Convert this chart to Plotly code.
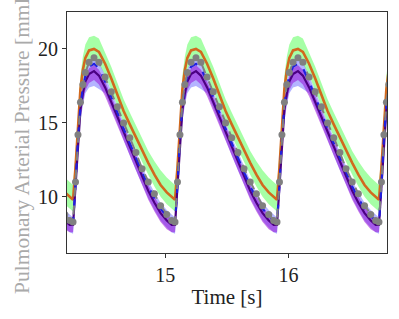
import numpy as np
import plotly.graph_objects as go

# cycle start times [s]
cycle_starts = [13.425, 14.252, 15.079, 15.906, 16.733]
# time within a cycle [s]
tau = [0.00, 0.02, 0.04, 0.06, 0.08, 0.10, 0.13, 0.17, 0.21, 0.26, 0.31,
       0.36, 0.41, 0.46, 0.51, 0.56, 0.61, 0.66, 0.71, 0.76, 0.80]

# pressure values per cycle [mmHg]
grey_data = [8.3, 11.0, 14.2, 16.4, 17.6, 18.4, 19.1, 19.4, 19.1, 18.1, 17.1,
             16.1, 15.0, 14.0, 13.0, 11.9, 11.0, 10.2, 9.4, 8.8, 8.4]
dark_purple = [8.1, 10.6, 13.8, 15.9, 17.0, 17.8, 18.3, 18.5, 18.2, 17.4, 16.4,
               15.4, 14.3, 13.3, 12.3, 11.3, 10.4, 9.6, 8.9, 8.4, 8.1]
blue_dashed = [8.2, 10.8, 14.0, 16.2, 17.4, 18.2, 18.8, 19.0, 18.7, 17.8, 16.8,
               15.7, 14.6, 13.6, 12.6, 11.6, 10.7, 9.9, 9.2, 8.7, 8.4]
orange_mean = [9.8, 12.0, 15.0, 17.3, 18.6, 19.4, 19.9, 20.0, 19.8, 19.0, 18.0,
               16.9, 15.8, 14.9, 14.0, 13.1, 12.3, 11.5, 10.8, 10.3, 10.0]
green_lo = [9.0, 11.2, 14.2, 16.5, 17.8, 18.6, 19.1, 19.2, 19.0, 18.2, 17.2,
            16.1, 15.0, 14.1, 13.2, 12.3, 11.5, 10.7, 10.0, 9.5, 9.2]
green_hi = [10.8, 12.9, 15.9, 18.2, 19.5, 20.3, 20.8, 20.9, 20.7, 19.8, 18.8,
            17.7, 16.6, 15.7, 14.8, 13.9, 13.1, 12.4, 11.8, 11.3, 11.0]
blue_lo = [7.5, 9.8, 13.0, 15.1, 16.2, 17.0, 17.4, 17.5, 17.3, 17.0, 16.0,
           14.9, 13.8, 12.8, 11.8, 10.8, 9.9, 9.1, 8.4, 7.9, 7.6]
blue_hi = [8.6, 11.2, 14.4, 16.6, 17.8, 18.6, 19.2, 19.4, 19.1, 18.2, 17.2,
           16.1, 15.0, 14.0, 13.0, 12.0, 11.1, 10.3, 9.6, 9.1, 8.8]
purple_lo = [7.6, 10.0, 13.2, 15.3, 16.4, 17.2, 17.7, 17.9, 17.6, 16.8, 15.8,
             14.8, 13.7, 12.7, 11.7, 10.7, 9.8, 9.0, 8.3, 7.8, 7.6]
purple_hi = [8.5, 11.0, 14.2, 16.3, 17.4, 18.2, 18.7, 18.9, 18.6, 17.8, 16.8,
             15.8, 14.7, 13.7, 12.7, 11.7, 10.8, 10.0, 9.3, 8.8, 8.5]

x_ticks = [15, 16]
y_ticks = [10, 15, 20]

t = np.concatenate([np.array(tau) + s for s in cycle_starts])
def rep(v):
    return np.tile(np.array(v), len(cycle_starts))

FONT = "Liberation Serif"
fig = go.Figure()

def band(lo, hi, color):
    fig.add_trace(go.Scatter(x=t, y=rep(lo), mode="lines", line=dict(width=0),
                             showlegend=False, hoverinfo="skip"))
    fig.add_trace(go.Scatter(x=t, y=rep(hi), mode="lines", line=dict(width=0),
                             fill="tonexty", fillcolor=color, showlegend=False,
                             hoverinfo="skip"))

band(green_lo, green_hi, "rgba(0,255,0,0.35)")
band(blue_lo, blue_hi, "rgba(40,40,255,0.35)")
band(purple_lo, purple_hi, "rgba(148,0,211,0.5)")

fig.add_trace(go.Scatter(x=t, y=rep(orange_mean), mode="lines",
                         line=dict(color="#d2691e", width=2.6), showlegend=False))
fig.add_trace(go.Scatter(x=t, y=rep(dark_purple), mode="lines",
                         line=dict(color="#4b0082", width=2.2), showlegend=False))
fig.add_trace(go.Scatter(x=t, y=rep(blue_dashed), mode="lines",
                         line=dict(color="#2020e0", width=2.2, dash="dash"),
                         showlegend=False))
fig.add_trace(go.Scatter(x=t, y=rep(grey_data), mode="lines+markers",
                         line=dict(color="#808080", width=2, dash="dash"),
                         marker=dict(color="#808080", size=7, symbol="circle"),
                         showlegend=False))

axis_common = dict(showgrid=False, zeroline=False, showline=True, mirror=True,
                   linecolor="#333333", linewidth=1.2, ticks="outside",
                   ticklen=4, tickcolor="#333333", automargin=False,
                   tickfont=dict(family=FONT, size=20, color="#222222"))

fig.update_layout(
    width=399, height=319,
    margin=dict(l=66.7, r=12.3, t=12, b=65.7),
    paper_bgcolor="white", plot_bgcolor="white",
    xaxis=dict(range=[14.203, 16.798], tickvals=x_ticks,
               title=dict(text="Time [s]", font=dict(family=FONT, size=21, color="#222222"),
                          standoff=4),
               **axis_common),
    yaxis=dict(range=[6.2, 22.5], tickvals=y_ticks,
               title=dict(text="Pulmonary Arterial Pressure [mmHg]",
                          font=dict(family=FONT, size=21.5, color="#aaaaaa"),
                          standoff=2),
               **axis_common),
)

fig.write_html("out.html", config={"displayModeBar": False},
               post_script="document.body.style.margin='0px';document.body.style.overflow='hidden';")
